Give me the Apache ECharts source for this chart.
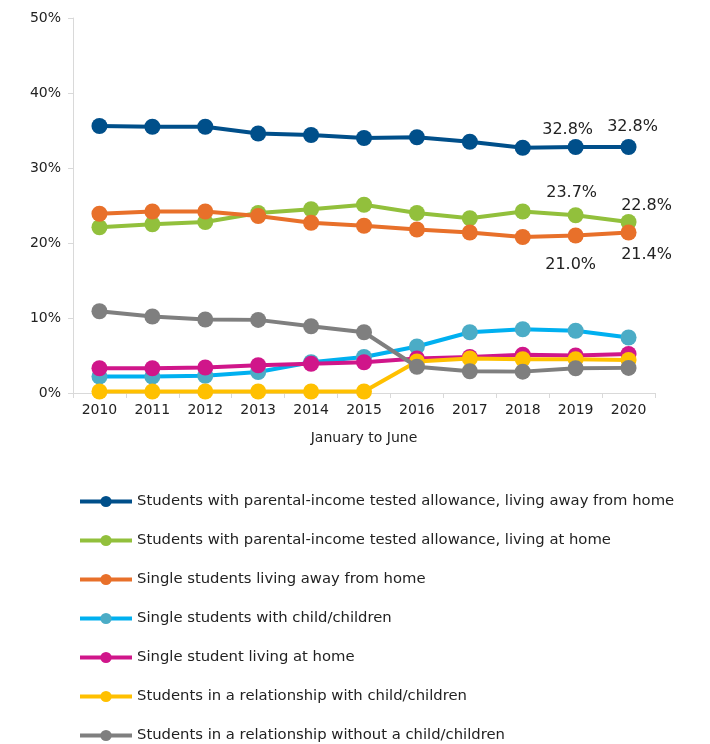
<!DOCTYPE html>
<html>
<head>
<meta charset="utf-8">
<script src="https://cdn.jsdelivr.net/npm/echarts@6/dist/echarts.min.js"></script>
<style>
  html, body { margin: 0; padding: 0; background: #fff; }
  #chart { width: 710px; height: 744px; }
</style>
</head>
<body>
<div id="chart"></div>
<script>
// data, in percent
const years = ['2010', '2011', '2012', '2013', '2014', '2015', '2016', '2017', '2018', '2019', '2020']
const yTicks = ['0%', '10%', '20%', '30%', '40%', '50%']

const parentalAway = [35.6, 35.5, 35.5, 34.6, 34.4, 34.0, 34.1, 33.5, 32.7, 32.8, 32.8]
const parentalHome = [22.1, 22.5, 22.8, 24.0, 24.5, 25.1, 24.0, 23.3, 24.2, 23.7, 22.8]
const singleAway = [23.9, 24.2, 24.2, 23.6, 22.7, 22.3, 21.8, 21.4, 20.8, 21.0, 21.4]
const singleChild = [2.2, 2.2, 2.3, 2.8, 4.1, 4.8, 6.2, 8.1, 8.5, 8.3, 7.4]
const singleHome = [3.3, 3.3, 3.4, 3.7, 3.9, 4.1, 4.6, 4.8, 5.1, 5.0, 5.2]
const coupleChild = [0.2, 0.2, 0.2, 0.2, 0.2, 0.2, 4.2, 4.6, 4.5, 4.5, 4.4]
const coupleNoChild = [10.9, 10.2, 9.8, 9.75, 8.9, 8.1, 3.5, 2.9, 2.85, 3.3, 3.35]

const names = [
    'Students with parental-income tested allowance, living away from home',
    'Students with parental-income tested allowance, living at home',
    'Single students living away from home',
    'Single students with child/children',
    'Single student living at home',
    'Students in a relationship with child/children',
    'Students in a relationship without a child/children'
]

// point labels shown for the last two years: [series index, year index, position, offset]
const labelled = [
    [0, 9, 'top', [-8, 4]], [0, 10, 'top', [4, 1]],
    [1, 9, 'top', [-4, -1]], [1, 10, 'top', [18, 5]],
    [2, 9, 'bottom', [-5, 8]], [2, 10, 'bottom', [18, 1]]
]

const lineColors = ['#004f8a', '#92c03c', '#e8702a', '#00b0f0', '#d0168a', '#ffc000', '#7f7f7f']
const dotColors = ['#004f8a', '#92c03c', '#e8702a', '#4bacc6', '#d0168a', '#ffc000', '#7f7f7f']
const values = [parentalAway, parentalHome, singleAway, singleChild, singleHome, coupleChild, coupleNoChild]

const series = values.map((vals, si) => ({
    name: names[si],
    type: 'line',
    data: vals.map((v, i) => {
        const hit = labelled.find(l => l[0] === si && l[1] === i)
        if (!hit) return v
        return {
            value: v,
            label: {
                show: true,
                position: hit[2],
                offset: hit[3],
                formatter: p => p.value.toFixed(1) + '%',
                color: '#222',
                fontSize: 16,
                fontFamily: 'DejaVu Sans'
            }
        }
    }),
    symbol: 'circle',
    symbolSize: 16,
    lineStyle: { width: 4, color: lineColors[si] },
    itemStyle: { color: dotColors[si] },
    emphasis: { disabled: true },
    z: 2 + si
}))

const chart = echarts.init(document.getElementById('chart'))
chart.setOption({
    animation: false,
    textStyle: { fontFamily: 'DejaVu Sans' },
    grid: { left: 73, right: 55, top: 18, bottom: 351 },
    xAxis: {
        type: 'category',
        data: years,
        name: 'January to June',
        nameLocation: 'middle',
        nameGap: 38,
        nameTextStyle: { color: '#222', fontSize: 14 },
        axisLine: { lineStyle: { color: '#d9d9d9', width: 1 } },
        axisTick: { show: true, alignWithLabel: false, length: 5, lineStyle: { color: '#d9d9d9' } },
        axisLabel: { color: '#222', fontSize: 14, margin: 10 }
    },
    yAxis: {
        type: 'value',
        min: 0,
        max: 50,
        interval: 10,
        axisLine: { show: true, lineStyle: { color: '#d9d9d9', width: 1 } },
        axisTick: { show: true, length: 5, lineStyle: { color: '#d9d9d9' } },
        axisLabel: {
            color: '#222',
            fontSize: 14,
            margin: 12,
            formatter: v => yTicks[v / 10]
        },
        splitLine: { show: false }
    },
    legend: {
        orient: 'vertical',
        left: 78,
        top: 494,
        padding: 0,
        itemWidth: 52,
        itemHeight: 14,
        itemGap: 24,
        lineStyle: { width: 4 },
        textStyle: { color: '#222', fontSize: 14.8, padding: [0, 0, 0, 0] },
        data: names
    },
    series: series
})
</script>
</body>
</html>
